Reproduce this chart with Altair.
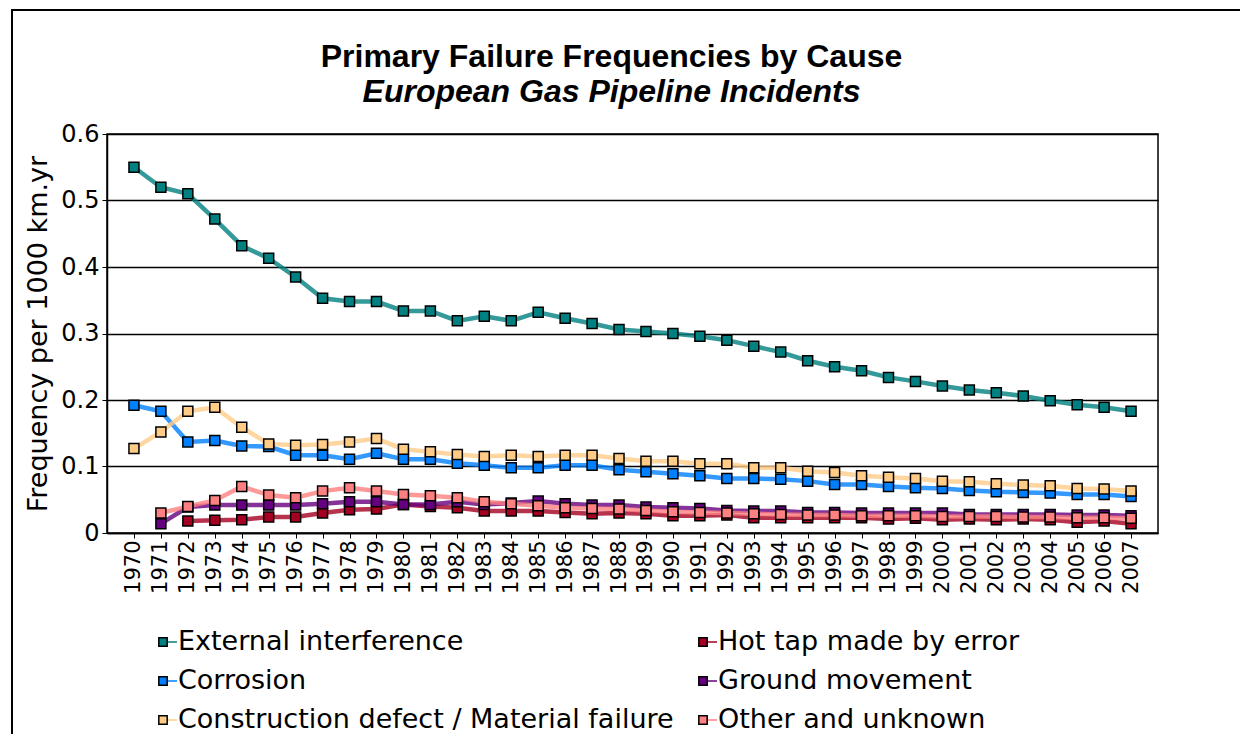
import altair as alt
import pandas as pd

years = list(range(1970, 2008))

series_names = [
    "External interference",
    "Corrosion",
    "Construction defect / Material failure",
    "Hot tap made by error",
    "Ground movement",
    "Other and unknown",
]

external = [0.550, 0.520, 0.510, 0.472, 0.432, 0.413, 0.385, 0.353, 0.348, 0.348,
            0.334, 0.334, 0.319, 0.326, 0.319, 0.332, 0.323, 0.315, 0.306, 0.303,
            0.300, 0.296, 0.290, 0.281, 0.272, 0.259, 0.250, 0.244, 0.234, 0.228,
            0.221, 0.215, 0.211, 0.206, 0.199, 0.193, 0.189, 0.183]
corrosion = [0.192, 0.183, 0.137, 0.139, 0.131, 0.130, 0.117, 0.117, 0.111, 0.120,
             0.111, 0.111, 0.105, 0.102, 0.098, 0.098, 0.102, 0.102, 0.095, 0.092,
             0.089, 0.086, 0.082, 0.082, 0.081, 0.078, 0.073, 0.073, 0.070, 0.068,
             0.067, 0.064, 0.062, 0.061, 0.060, 0.058, 0.058, 0.055]
construction = [0.127, 0.152, 0.183, 0.189, 0.159, 0.134, 0.132, 0.133, 0.137, 0.142,
                0.126, 0.122, 0.118, 0.115, 0.117, 0.115, 0.117, 0.117, 0.112, 0.108,
                0.108, 0.104, 0.104, 0.098, 0.098, 0.093, 0.091, 0.086, 0.084, 0.082,
                0.078, 0.077, 0.074, 0.072, 0.071, 0.067, 0.066, 0.063]
hot_tap = [None, None, 0.018, 0.019, 0.020, 0.024, 0.024, 0.030, 0.035, 0.036,
           0.043, 0.040, 0.038, 0.033, 0.033, 0.033, 0.031, 0.029, 0.030, 0.029,
           0.026, 0.026, 0.027, 0.023, 0.023, 0.023, 0.023, 0.023, 0.021, 0.022,
           0.020, 0.021, 0.020, 0.021, 0.020, 0.016, 0.018, 0.014]
ground = [None, 0.014, 0.039, 0.042, 0.042, 0.042, 0.042, 0.044, 0.047, 0.047,
          0.043, 0.043, 0.047, 0.043, 0.045, 0.048, 0.044, 0.042, 0.042, 0.039,
          0.038, 0.037, 0.034, 0.033, 0.033, 0.031, 0.031, 0.030, 0.030, 0.030,
          0.030, 0.028, 0.028, 0.028, 0.028, 0.027, 0.027, 0.026]
other = [None, 0.030, 0.040, 0.049, 0.070, 0.057, 0.053, 0.063, 0.068, 0.063,
         0.058, 0.056, 0.053, 0.047, 0.044, 0.041, 0.038, 0.037, 0.036, 0.034,
         0.032, 0.031, 0.030, 0.029, 0.028, 0.027, 0.027, 0.026, 0.026, 0.026,
         0.025, 0.025, 0.025, 0.024, 0.024, 0.023, 0.023, 0.022]

series_values = [external, corrosion, construction, hot_tap, ground, other]
series_colors = ["#008080", "#0080FF", "#FFCC88", "#A50021", "#660080", "#FF8080"]

# legend grid: two columns of three entries
legend_col = [0, 0, 0, 1, 1, 1]
legend_row = [0, 1, 2, 0, 1, 2]

rows = []
for idx, (name, vals) in enumerate(zip(series_names, series_values)):
    for y, v in zip(years, vals):
        if v is not None:
            rows.append({"year": str(y), "cause": name, "value": v})
df = pd.DataFrame(rows)

legend_df = pd.DataFrame({"cause": series_names, "col": legend_col, "row": legend_row})

FONT = "DejaVu Sans"
color_scale = alt.Scale(domain=series_names, range=series_colors)
x_scale = alt.Scale(type="point", padding=1.03)
y_scale = alt.Scale(domain=[0, 0.6])

x_axis = alt.Axis(title=None, labelAngle=270, labelFont=FONT, labelFontSize=21,
                  labelColor="black", tickColor="black", tickSize=5,
                  domainColor="black", domainWidth=1.5, labelPadding=2,
                  labelBaseline="middle", labelAlign="right")
y_axis = alt.Axis(title="Frequency per 1000 km.yr", titleFont=FONT,
                  titleFontSize=27, titleFontWeight="normal", titleColor="black",
                  titlePadding=8,
                  values=[0, 0.1, 0.2, 0.3, 0.4, 0.5, 0.6],
                  labelExpr="datum.value == 0 ? '0' : format(datum.value, '.1f')",
                  labelFont=FONT, labelFontSize=24, labelColor="black",
                  tickColor="black", tickSize=5, labelPadding=3,
                  grid=True, gridColor="black", gridWidth=1.5,
                  domainColor="black", domainWidth=1.5)

base = alt.Chart(df)

lines = base.mark_line(strokeWidth=4.5, opacity=0.8).encode(
    x=alt.X("year:O", scale=x_scale, axis=None),
    y=alt.Y("value:Q", scale=y_scale, axis=None),
    stroke=alt.Stroke("cause:N", scale=color_scale, legend=None),
    detail="cause:N",
    order=alt.Order("year:O"),
)

points = base.mark_square(size=100, stroke="black", strokeWidth=1.5, opacity=1).encode(
    x=alt.X("year:O", scale=x_scale, axis=x_axis),
    y=alt.Y("value:Q", scale=y_scale, axis=y_axis),
    fill=alt.Fill("cause:N", scale=color_scale, legend=None),
)

# legend drawn as its own layer (placement scales are pure layout)
leg_x = alt.X("col:Q", scale=alt.Scale(domain=[0, 1], range=[56, 596]), axis=None)
leg_y = alt.Y("row:Q", scale=alt.Scale(domain=[0, 2], range=[508, 586]), axis=None)
leg_base = alt.Chart(legend_df)
leg_lines = leg_base.mark_rule(strokeWidth=1.5).encode(
    x=leg_x, y=leg_y,
    x2=alt.X2("col_end:Q"),
    stroke=alt.Stroke("cause:N", scale=color_scale, legend=None),
).transform_calculate(col_end="datum.col + 0.0259")
leg_sym = leg_base.mark_square(size=70, stroke="black", strokeWidth=1.5, opacity=1).encode(
    x=leg_x, y=leg_y,
    fill=alt.Fill("cause:N", scale=color_scale, legend=None),
)
leg_text = leg_base.mark_text(align="left", baseline="middle", dx=15, font=FONT,
                              fontSize=27, color="black").encode(
    x=leg_x, y=leg_y, text="cause:N",
)

# page frame (top and left edges) drawn as thin filled bars
frame_df = pd.DataFrame({"f": [0]})
frame_top = alt.Chart(frame_df).mark_rect(fill="black", strokeWidth=0).encode(
    x=alt.value(-96), x2=alt.value(1133), y=alt.value(-125), y2=alt.value(-123)
)
frame_left = alt.Chart(frame_df).mark_rect(fill="black", strokeWidth=0).encode(
    x=alt.value(-96), x2=alt.value(-94), y=alt.value(-125), y2=alt.value(600)
)

chart = alt.layer(frame_top, frame_left, lines, points, leg_lines, leg_sym, leg_text).resolve_scale(
    x="independent", y="independent"
).properties(
    width=1051,
    height=399,
    autosize=alt.AutoSizeParams(type="none"),
    padding={"left": 99, "top": 126, "right": 82, "bottom": 202},
    title=alt.Title(
        "Primary Failure Frequencies by Cause",
        subtitle="European Gas Pipeline Incidents",
        font="Liberation Sans", fontSize=32, fontWeight="bold", color="black",
        subtitleFont="Liberation Sans", subtitleFontSize=32, subtitleFontWeight="bold",
        subtitleFontStyle="italic", subtitleColor="black", subtitlePadding=3,
        anchor="middle", frame="group", dx=-21, dy=100, offset=0,
    ),
).configure(
    background="white",
    view=alt.ViewConfig(stroke="black", strokeWidth=1.5),
)

chart.save("out.html", embed_options={"renderer": "svg", "actions": False})
